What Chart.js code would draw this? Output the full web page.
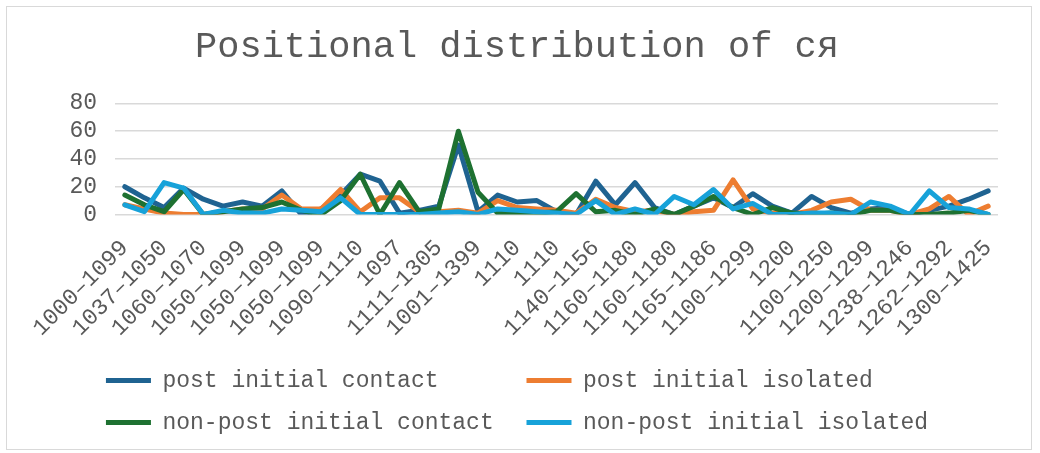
<!DOCTYPE html>
<html>
<head>
<meta charset="utf-8">
<script src="https://cdn.jsdelivr.net/npm/chart.js@4"></script>
<style>
  html, body { margin: 0; padding: 0; background: #fff; }
  #wrap { position: relative; width: 1040px; height: 453px; }
  #frame { position: absolute; left: 6px; top: 6px; width: 1026px; height: 444px; border: 1px solid #d9d9d9; box-sizing: border-box; pointer-events: none; }
  canvas { position: absolute; left: 0; top: 0; }
</style>
</head>
<body>
<div id="wrap">
  <canvas id="c" width="1040" height="453"></canvas>
  <div id="frame"></div>
</div>
<script>
const categories = [
  "1000–1099","1000–1099","1037–1050","1050–1070","1060–1070","1050–1099","1050–1099","1050–1099",
  "1050–1099","1050–1099","1050–1099","1090–1110","1090–1110","1097","1097","1100–1199",
  "1111–1305","1100–1200","1001–1399","1110","1110","1110","1110","1130",
  "1140–1156","1150–1160","1160–1180","1160–1180","1160–1180","1165–1186","1165–1186","1180",
  "1100–1299","1200","1200","1200","1100–1250","1200–1250","1200–1299","1230",
  "1238–1246","1250","1262–1292","1290–1300","1300–1425"
];
const seriesNames = ["post initial contact","post initial isolated","non-post initial contact","non-post initial isolated"];
const postContact = [20,12,5,19,11,6,9,6,17,0,4,14,29,24,1,3,6,50,2,14,9,10,2,0,24,7,23,5,0,6,12,5,15,6,1,13,5,1,4,5,0,3,6,11,17];
const postIsolated = [7,4,1,0,0,2,4,4,14,4,4,18,2,12,12,2,2,3,1,10,5,4,3,1,11,5,2,3,0,2,3,25,4,1,0,3,9,11,3,3,0,4,13,0,6];
const nonPostContact = [14,7,2,18,0,2,4,5,9,3,0,10,29,0,23,2,4,60,16,1,1,1,2,15,2,3,0,4,0,6,13,5,0,5,1,0,1,0,3,3,0,0,1,3,0];
const nonPostIsolated = [7,2,23,19,0,3,1,1,4,3,2,12,0,0,0,0,1,2,0,4,3,2,1,0,10,0,4,0,13,7,18,4,8,0,0,1,1,0,9,6,0,17,5,4,0];
const yTicks = [0,20,40,60,80];
const colors = ["#1f6391","#ed7d31","#1e7131","#17a2d9"];

const FONT = '"Liberation Mono", "DejaVu Sans Mono", monospace';
const TXT = '#595959';
const allSeries = [postContact, postIsolated, nonPostContact, nonPostIsolated];

new Chart(document.getElementById('c'), {
  type: 'line',
  data: {
    labels: categories,
    datasets: allSeries.map((d, i) => ({
      label: seriesNames[i],
      data: d,
      borderColor: colors[i],
      backgroundColor: colors[i],
      borderWidth: 5,
      pointRadius: 0,
      tension: 0,
      borderJoinStyle: 'round',
      borderCapStyle: 'round',
      order: 4 - i
    }))
  },
  options: {
    responsive: false,
    animation: false,
    layout: { padding: { left: 36, right: 42, top: 10, bottom: 9 } },
    plugins: {
      title: {
        display: true,
        text: 'Positional distribution of ся',
        color: TXT,
        font: { family: FONT, size: 37, weight: 'normal' },
        padding: { top: 15, bottom: 34 }
      },
      legend: {
        position: 'bottom',
        labels: {
          color: TXT,
          font: { family: FONT, size: 23 },
          boxWidth: 45,
          boxHeight: 5,
          padding: 19,
          sort: (a, b) => a.datasetIndex - b.datasetIndex,
          generateLabels: (chart) => {
            const items = Chart.defaults.plugins.legend.labels.generateLabels(chart);
            items.forEach(it => {
              it.text = it.text.padEnd(25, ' ');
              it.lineWidth = 0;
              it.fillStyle = it.strokeStyle;
            });
            return items;
          }
        }
      },
      tooltip: { enabled: false }
    },
    scales: {
      x: {
        offset: true,
        afterFit: s => { s.height = 135.5; },
        grid: { display: false, drawTicks: false },
        border: { display: false },
        ticks: {
          autoSkip: false,
          maxRotation: 45,
          minRotation: 45,
          color: TXT,
          padding: 20,
          font: { family: FONT, size: 23 },
          callback: function (v, i) { return i % 2 === 0 ? this.getLabelForValue(v) : ''; }
        }
      },
      y: {
        min: 0,
        max: 80,
        afterFit: s => { s.width = 79; },
        afterBuildTicks: s => { s.ticks = yTicks.map(v => ({ value: v })); },
        grid: { color: '#d9d9d9', lineWidth: 1.5, drawTicks: false },
        border: { display: false },
        ticks: {
          autoSkip: false,
          stepSize: 20,
          color: TXT,
          padding: 18,
          font: { family: FONT, size: 23 }
        }
      }
    }
  }
});
</script>
</body>
</html>
